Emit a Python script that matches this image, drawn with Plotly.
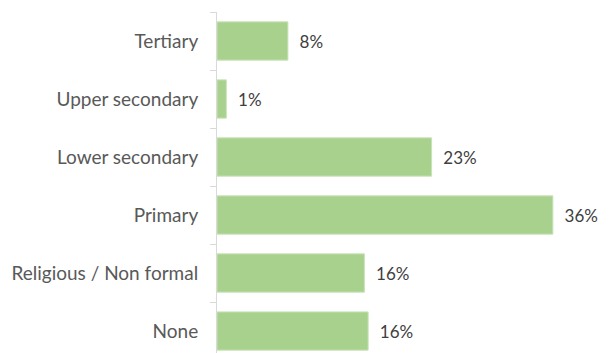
import plotly.graph_objects as go

categories = ["Tertiary", "Upper secondary", "Lower secondary", "Primary",
              "Religious / Non formal", "None"]
values = [7.6, 1.0, 23.0, 36.0, 15.8, 16.2]

fig = go.Figure(go.Bar(
    x=values,
    y=categories,
    orientation="h",
    marker=dict(color="#A9D18E", line=dict(color="#C9E3B8", width=1)),
    texttemplate="  %{x:.0f}%",
    textposition="outside",
    textfont=dict(family="Lato", size=17, color="#404040"),
    cliponaxis=False,
))

fig.update_layout(
    width=612, height=353,
    margin=dict(l=217, r=0, t=12, b=0),
    paper_bgcolor="white", plot_bgcolor="white",
    bargap=0.34,
    showlegend=False,
    font=dict(family="Lato", size=16, color="#595959"),
)
fig.update_xaxes(range=[0, 395 / 9.33], visible=False, showgrid=False, zeroline=False)
fig.update_yaxes(
    categoryorder="array", categoryarray=categories,
    range=[5.379, -0.5],
    showline=True, linecolor="#D9D9D9", linewidth=1,
    ticks="outside", ticklen=6, tickcolor="#D9D9D9", tickson="boundaries",
    ticklabelstandoff=14,
    showgrid=False, zeroline=False,
    tickfont=dict(family="Lato", size=19, color="#595959"),
)

fig.write_html("out.html")
